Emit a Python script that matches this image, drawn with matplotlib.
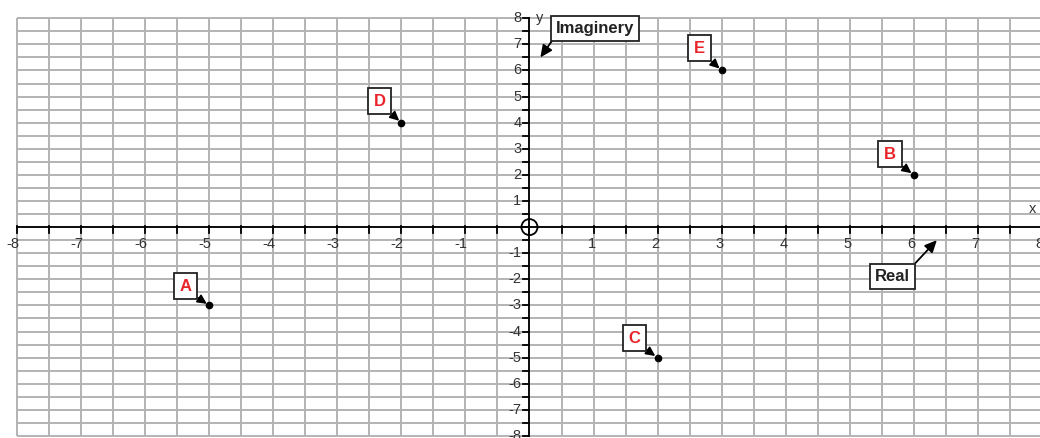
import numpy as np
import matplotlib
matplotlib.use("Agg")
import matplotlib.pyplot as plt
from matplotlib.patches import Ellipse

plt.rcParams['font.family'] = ['Liberation Sans', 'DejaVu Sans']

# complex numbers plotted on the Argand plane
names = ['A', 'B', 'C', 'D', 'E']
real = [-5, 6, 2, -2, 3]
imag = [-3, 2, -5, 4, 6]
# where each label box sits relative to its point
lab_dx = [-0.37, -0.37, -0.36, -0.34, -0.34]
lab_dy = [0.74, 0.8, 0.75, 0.83, 0.86]

xticks = [v for v in range(-8, 9) if v != 0]
yticks = [v for v in range(-8, 9) if v != 0]

fig = plt.figure(figsize=(10.4, 4.38), dpi=100)
ax = fig.add_axes([0, 0, 1, 1])
ax.set_xlim(-8.266, 7.97)
ax.set_ylim(-8.08, 8.70)
ax.axis('off')

grid_c = '#b3b3b3'
steps = np.arange(-8, 8.01, 0.5)
ax.vlines(steps, -8, 8, colors=grid_c, lw=1.4, zorder=1)
ax.hlines(steps, -8, 8, colors=grid_c, lw=1.4, zorder=1)

# axes through origin
ax.plot([-8, 8], [0, 0], color='black', lw=1.3, zorder=3)
ax.plot([0, 0], [-8, 8], color='black', lw=1.3, zorder=3)
# tick marks
px_x = 1 / 64.0
px_y = 1 / 26.1
for t in steps:
    ax.plot([t, t], [1 * px_y, -6 * px_y], color='black', lw=1.3, zorder=3)
    ax.plot([-6 * px_x, 0], [t, t], color='black', lw=1.3, zorder=3)

for v in xticks:
    ax.text(v + 2 * px_x, -0.63, str(v), ha='right', va='center', fontsize=10.5, color='#333333', zorder=4)
for v in yticks:
    ax.text(-8 * px_x, v, str(v), ha='right', va='center', fontsize=10.5, color='#333333', zorder=4)

ax.text(7.86, 0.7, 'x', ha='center', va='center', fontsize=10.5, color='#333333')
ax.text(0.16, 8.0, 'y', ha='center', va='center', fontsize=10.5, color='#333333')

# open circle at origin
ax.add_patch(Ellipse((0, 0), 16 * px_x, 16 * px_y, fill=False, ec='black', lw=1.3, zorder=4))

small_head = '-|>,head_length=0.45,head_width=0.22'
head = '-|>,head_length=0.6,head_width=0.28'
box = dict(boxstyle='square,pad=0.35', fc='white', ec='#222222', lw=1.3)
for n, x, y, dx, dy in zip(names, real, imag, lab_dx, lab_dy):
    ax.plot(x, y, 'o', color='black', ms=4.5, zorder=5)
    ax.annotate(n, xy=(x, y), xytext=(x + dx, y + dy), ha='center', va='center',
                fontsize=12, fontweight='bold', color='#e8242a', bbox=box, zorder=6,
                arrowprops=dict(arrowstyle=small_head, color='black',
                                lw=1.3, shrinkA=0, shrinkB=2,
                                relpos=(1, 0)))

box2 = dict(boxstyle='square,pad=0.3', fc='white', ec='#222222', lw=1.3)
ax.annotate('Imaginery', xy=(0.17, 6.5), xytext=(1.02, 7.62), ha='center', va='center',
            fontsize=12, fontweight='bold', color='#222222', bbox=box2, zorder=6,
            arrowprops=dict(arrowstyle=head, color='black',
                            lw=1.3, shrinkA=0, shrinkB=0, relpos=(0, 0)))
ax.annotate('Real', xy=(6.36, -0.5), xytext=(5.67, -1.88), ha='center', va='center',
            fontsize=12, fontweight='bold', color='#222222', bbox=box2, zorder=6,
            arrowprops=dict(arrowstyle=head, color='black',
                            lw=1.3, shrinkA=0, shrinkB=0, relpos=(1, 1)))

fig.savefig('out.png', dpi=100, facecolor='white')
